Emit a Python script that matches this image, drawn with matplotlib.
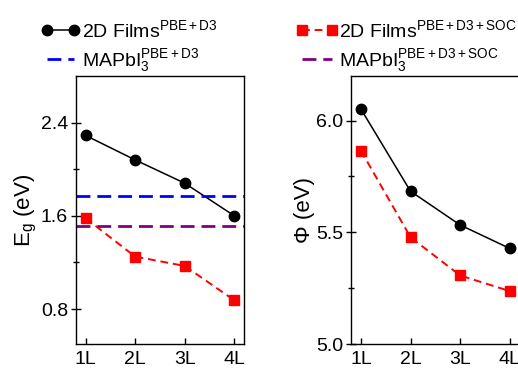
import numpy as np
import matplotlib
matplotlib.use("Agg")
import matplotlib.pyplot as plt
from matplotlib.lines import Line2D

plt.rcParams["font.family"] = ["Liberation Sans", "DejaVu Sans"]
plt.rcParams["mathtext.fontset"] = "custom"
plt.rcParams["mathtext.rm"] = "Liberation Sans"
plt.rcParams["mathtext.it"] = "Liberation Sans:italic"
plt.rcParams["mathtext.default"] = "regular"

# --------------------------

layers = ["1L", "2L", "3L", "4L"]
xpos = [1, 2, 3, 4]

gap_pbe = [2.29, 2.08, 1.88, 1.60]
gap_soc = [1.58, 1.25, 1.17, 0.875]
gap_bulk_pbe = 1.77
gap_bulk_soc = 1.51

wf_pbe = [6.052, 5.684, 5.533, 5.428]
wf_soc = [5.866, 5.478, 5.307, 5.237]

fig = plt.figure(figsize=(5.18, 3.68), dpi=100)

ax1 = fig.add_axes([0.146, 0.0652, 0.3255, 0.7283])
ax2 = fig.add_axes([0.6776, 0.0652, 0.3255, 0.7283])

black_kw = dict(color="black", lw=1.1, marker="o", markersize=7.5)
red_kw = dict(color="red", lw=1.4, ls=(0, (4, 2.5)), marker="s", markersize=7)
bulk_ls = (0, (5, 2.5))

ax1.plot(xpos, gap_pbe, **black_kw)
ax1.plot(xpos, gap_soc, **red_kw)
ax1.axhline(gap_bulk_pbe, color="blue", lw=2.0, ls=bulk_ls)
ax1.axhline(gap_bulk_soc, color="purple", lw=2.0, ls=bulk_ls)
ax1.set_ylim(0.5, 2.8)
ax1.set_yticks([0.8, 1.6, 2.4])
ax1.set_yticks([1.2, 2.0], minor=True)
ax1.set_yticklabels(["0.8", "1.6", "2.4"])
ax1.set_ylabel("E$_g$ (eV)", fontsize=16, labelpad=1)

ax2.plot(xpos, wf_pbe, **black_kw)
ax2.plot(xpos, wf_soc, **red_kw)
ax2.set_ylim(5.0, 6.2)
ax2.set_yticks([5.0, 5.5, 6.0])
ax2.set_yticks([5.25, 5.75], minor=True)
ax2.set_yticklabels(["5.0", "5.5", "6.0"])
ax2.set_ylabel("Φ (eV)", fontsize=16, labelpad=1)

for ax in (ax1, ax2):
    ax.set_xlim(0.8, 4.2)
    ax.set_xticks(xpos)
    ax.set_xticklabels(layers)
    ax.tick_params(axis="x", direction="in", length=4, width=1, pad=5, labelsize=14)
    ax.tick_params(axis="y", which="major", direction="inout", length=7, width=1, pad=2, labelsize=14)
    ax.tick_params(axis="y", which="minor", direction="inout", length=5, width=1)
    for s in ax.spines.values():
        s.set_linewidth(1.0)

h_pbe = Line2D([], [], **black_kw)
h_soc = Line2D([], [], **red_kw)
h_bulk_pbe = Line2D([], [], color="blue", lw=2.0, ls=bulk_ls)
h_bulk_soc = Line2D([], [], color="purple", lw=2.0, ls=bulk_ls)

leg_kw = dict(loc="upper left", frameon=False, borderpad=0, borderaxespad=0,
              numpoints=2, handletextpad=0.1, labelspacing=0.3, fontsize=14)

fig.legend([h_pbe, h_bulk_pbe],
           ["2D Films$^{\\mathrm{PBE+D3}}$", "MAPbI$_3^{\\mathrm{PBE+D3}}$"],
           bbox_to_anchor=(0.079, 0.948), handlelength=2.0, **leg_kw)
fig.legend([h_soc, h_bulk_soc],
           ["2D Films$^{\\mathrm{PBE+D3+SOC}}$", "MAPbI$_3^{\\mathrm{PBE+D3+SOC}}$"],
           bbox_to_anchor=(0.571, 0.948), handlelength=2.14, **leg_kw)

fig.savefig("out.png", dpi=100)
